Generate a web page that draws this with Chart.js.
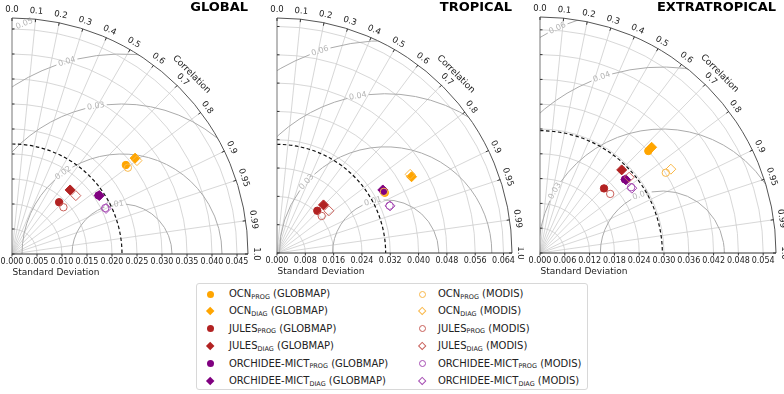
<!DOCTYPE html>
<html>
<head>
<meta charset="utf-8">
<script src="https://cdn.jsdelivr.net/npm/chart.js@4.4.1/dist/chart.umd.min.js"></script>
<style>
body { margin: 0; background: #fff; font-family: "DejaVu Sans", sans-serif; }
#wrap { position: relative; width: 784px; height: 394px; overflow: hidden; }
#wrap canvas { position: absolute; top: 0; }
#legend { position: absolute; left: 196px; top: 283px; width: 392px; height: 107px; border: 1px solid #d8d8d8; border-radius: 3px; box-sizing: border-box; font-size: 10px; color: #222; }
.item { position: absolute; height: 14px; line-height: 14px; white-space: nowrap; }
.mk { position: absolute; box-sizing: border-box; }
.sub { font-size: 6.5px; position: relative; top: 1.5px; }
</style>
</head>
<body>
<div id="wrap"><div id="legend"></div></div>
<script>
// series (same order in every panel)
const seriesModel = ['OCN', 'OCN', 'JULES', 'JULES', 'ORCHIDEE-MICT', 'ORCHIDEE-MICT',
                     'OCN', 'OCN', 'JULES', 'JULES', 'ORCHIDEE-MICT', 'ORCHIDEE-MICT'];
const seriesVersion = ['PROG', 'DIAG', 'PROG', 'DIAG', 'PROG', 'DIAG',
                       'PROG', 'DIAG', 'PROG', 'DIAG', 'PROG', 'DIAG'];
const seriesObs = ['GLOBMAP', 'GLOBMAP', 'GLOBMAP', 'GLOBMAP', 'GLOBMAP', 'GLOBMAP',
                   'MODIS', 'MODIS', 'MODIS', 'MODIS', 'MODIS', 'MODIS'];

// GLOBAL
const globalStd  = [0.0289, 0.0312, 0.0140, 0.0173, 0.0209, 0.0210, 0.0289, 0.0312, 0.0139, 0.0173, 0.0208, 0.0209];
const globalCorr = [0.788, 0.789, 0.673, 0.672, 0.828, 0.831, 0.802, 0.801, 0.740, 0.738, 0.897, 0.900];
const globalRef = 0.0220;
const globalMax = 0.0472;
const globalTicks = [0, 0.005, 0.010, 0.015, 0.020, 0.025, 0.030, 0.035, 0.040, 0.045];
const globalRms = [0.01, 0.02, 0.03, 0.04, 0.05];
const globalRmsLabels = ['0.01', '0.02', '0.03', '0.04', '0.05'];

// TROPICAL
const tropicalStd  = [0.0349, 0.0437, 0.0165, 0.0189, 0.0348, 0.0348, 0.0348, 0.0437, 0.0164, 0.0189, 0.0345, 0.0346];
const tropicalCorr = [0.873, 0.870, 0.690, 0.695, 0.864, 0.859, 0.868, 0.861, 0.770, 0.776, 0.922, 0.923];
const tropicalRef = 0.0307;
const tropicalMax = 0.0664;
const tropicalTicks = [0, 0.008, 0.016, 0.024, 0.032, 0.040, 0.048, 0.056, 0.064];
const tropicalRms = [0.015, 0.03, 0.045, 0.06];
const tropicalRmsLabels = ['0.01', '0.03', '0.04', '0.06'];

// EXTRATROPICAL
const extraStd  = [0.0360, 0.0372, 0.0220, 0.0282, 0.0272, 0.0273, 0.0361, 0.0376, 0.0222, 0.0283, 0.0272, 0.0272];
const extraCorr = [0.728, 0.726, 0.704, 0.701, 0.756, 0.761, 0.843, 0.842, 0.765, 0.762, 0.811, 0.817];
const extraRef = 0.0296;
const extraMax = 0.0571;
const extraTicks = [0, 0.006, 0.012, 0.018, 0.024, 0.030, 0.036, 0.042, 0.048, 0.054];
const extraRms = [0.015, 0.03, 0.045, 0.06];
const extraRmsLabels = ['0.01', '0.03', '0.04', '0.06'];

// correlation axis
const corrTicks = [0, 0.1, 0.2, 0.3, 0.4, 0.5, 0.6, 0.7, 0.8, 0.9, 0.95, 0.99, 1.0];
const corrLabels = ['0.0', '0.1', '0.2', '0.3', '0.4', '0.5', '0.6', '0.7', '0.8', '0.9', '0.95', '0.99', '1.0'];

const fillColor = { 'OCN': '#ffa500', 'JULES': '#b22222', 'ORCHIDEE-MICT': '#800080' };
const openColor = { 'OCN': '#f9b84a', 'JULES': '#c9605a', 'ORCHIDEE-MICT': '#a64db3' };

const CH = 285;
const panels = [
    { title: 'GLOBAL', left: 0, width: 262, ox: 12, oy: 254, R: 236,
      std: globalStd, corr: globalCorr, ref: globalRef, rmax: globalMax, ticks: globalTicks,
      rms: globalRms, rmsLabels: globalRmsLabels, rmsAngles: [98, 126, 100, 106, 113] },
    { title: 'TROPICAL', left: 262, width: 262, ox: 15, oy: 253, R: 235,
      std: tropicalStd, corr: tropicalCorr, ref: tropicalRef, rmax: tropicalMax, ticks: tropicalTicks,
      rms: tropicalRms, rmsLabels: tropicalRmsLabels, rmsAngles: [104, 138, 100, 108] },
    { title: 'EXTRATROPICAL', left: 525, width: 259, ox: 15, oy: 253, R: 236,
      std: extraStd, corr: extraCorr, ref: extraRef, rmax: extraMax, ticks: extraTicks,
      rms: extraRms, rmsLabels: extraRmsLabels, rmsAngles: [110, 150, 109, 115] }
];

//taylor diagram grid, drawn from the chart's own scales
var makeGrid = p => ({
    id: 'taylorGrid',
    beforeDatasetsDraw(chart) {
        const ctx = chart.ctx;
        const xs = chart.scales.x, ys = chart.scales.y;
        const ox = xs.getPixelForValue(0), oy = ys.getPixelForValue(0);
        const R = xs.getPixelForValue(p.rmax) - ox;
        const k = R / p.rmax;
        const PI = Math.PI;
        ctx.save();

        //std arcs
        ctx.strokeStyle = '#cdcdcd';
        ctx.lineWidth = 0.8;
        p.ticks.forEach(s => {
            if (s <= 0 || s >= p.rmax) return;
            ctx.beginPath();
            ctx.arc(ox, oy, s * k, -PI / 2, 0);
            ctx.stroke();
        });

        //correlation rays
        corrTicks.forEach(c => {
            if (c <= 0 || c >= 1) return;
            const a = Math.acos(c);
            ctx.beginPath();
            ctx.moveTo(ox, oy);
            ctx.lineTo(ox + R * Math.cos(a), oy - R * Math.sin(a));
            ctx.stroke();
        });

        //centred RMS contours
        ctx.save();
        ctx.beginPath();
        ctx.moveTo(ox, oy);
        ctx.arc(ox, oy, R, -PI / 2, 0);
        ctx.closePath();
        ctx.clip();
        const rx = ox + p.ref * k;
        ctx.font = '8px "DejaVu Sans"';
        ctx.strokeStyle = '#ababab';
        ctx.lineWidth = 1;
        const labs = [];
        p.rms.forEach((r, i) => {
            const rr = r * k;
            const phi = p.rmsAngles[i] * PI / 180;
            const tw = ctx.measureText(p.rmsLabels[i]).width;
            const gap = (tw / 2 + 2) / rr;
            ctx.beginPath();
            ctx.arc(rx, oy, rr, -PI, -phi - gap);
            ctx.stroke();
            ctx.beginPath();
            ctx.arc(rx, oy, rr, -phi + gap, 0);
            ctx.stroke();
            labs.push([rx + rr * Math.cos(phi), oy - rr * Math.sin(phi), phi, p.rmsLabels[i]]);
        });
        ctx.restore();
        ctx.fillStyle = '#b5b5b5';
        ctx.font = '8px "DejaVu Sans"';
        ctx.textAlign = 'center';
        ctx.textBaseline = 'middle';
        labs.forEach(l => {
            ctx.save();
            ctx.translate(l[0], l[1]);
            ctx.rotate(PI / 2 - l[2]);
            ctx.fillText(l[3], 0, 0);
            ctx.restore();
        });

        //reference std
        ctx.strokeStyle = '#111';
        ctx.lineWidth = 1.2;
        ctx.setLineDash([3.5, 2.5]);
        ctx.beginPath();
        ctx.arc(ox, oy, p.ref * k, -PI / 2, 0);
        ctx.stroke();
        ctx.setLineDash([]);

        //frame
        ctx.strokeStyle = '#555';
        ctx.lineWidth = 1;
        ctx.beginPath();
        ctx.arc(ox, oy, R, -PI / 2, 0);
        ctx.stroke();
        ctx.strokeStyle = '#777';
        ctx.beginPath();
        ctx.moveTo(ox, oy - R);
        ctx.lineTo(ox, oy);
        ctx.stroke();
        ctx.strokeStyle = '#333';
        ctx.beginPath();
        ctx.moveTo(ox, oy);
        ctx.lineTo(ox + R, oy);
        ctx.stroke();

        //std ticks + labels
        ctx.fillStyle = '#222';
        ctx.font = '8px "DejaVu Sans"';
        ctx.textAlign = 'center';
        ctx.textBaseline = 'middle';
        ctx.strokeStyle = '#333';
        p.ticks.forEach(s => {
            const x = ox + s * k;
            ctx.beginPath();
            ctx.moveTo(x, oy);
            ctx.lineTo(x, oy + 2.5);
            ctx.stroke();
            ctx.fillText(s.toFixed(3), x, oy + 8);
            ctx.beginPath();
            ctx.moveTo(ox, oy - s * k);
            ctx.lineTo(ox + 2.5, oy - s * k);
            ctx.stroke();
        });
        ctx.font = '9px "DejaVu Sans"';
        ctx.fillText('Standard Deviation', ox + 44, oy + 19);

        //correlation ticks + labels
        ctx.font = '8.5px "DejaVu Sans"';
        corrTicks.forEach((c, i) => {
            const a = Math.acos(c);
            ctx.beginPath();
            ctx.moveTo(ox + R * Math.cos(a), oy - R * Math.sin(a));
            ctx.lineTo(ox + (R - 3) * Math.cos(a), oy - (R - 3) * Math.sin(a));
            ctx.stroke();
            ctx.save();
            ctx.translate(ox + (R + 8) * Math.cos(a), oy - (R + 8) * Math.sin(a));
            ctx.rotate(PI / 2 - a);
            ctx.fillText(corrLabels[i], 0, 0);
            ctx.restore();
        });
        ctx.font = '9px "DejaVu Sans"';
        ctx.save();
        ctx.translate(ox + (R + 18) * Math.cos(PI / 4), oy - (R + 18) * Math.sin(PI / 4));
        ctx.rotate(PI / 4);
        ctx.fillText('Correlation', 0, 0);
        ctx.restore();

        //panel title
        ctx.font = 'bold 13px "DejaVu Sans"';
        ctx.textAlign = 'right';
        ctx.fillStyle = '#000';
        ctx.fillText(p.title, ox + R, 8);
        ctx.restore();
    }
});

const wrap = document.getElementById('wrap');
panels.forEach(p => {
    const cv = document.createElement('canvas');
    cv.width = p.width;
    cv.height = CH;
    cv.style.left = p.left + 'px';
    wrap.appendChild(cv);
    const datasets = seriesModel.map((m, i) => {
        const filled = seriesObs[i] === 'GLOBMAP';
        const prog = seriesVersion[i] === 'PROG';
        const c = p.corr[i], s = p.std[i];
        return {
            data: [{ x: s * c, y: s * Math.sqrt(1 - c * c) }],
            pointStyle: prog ? 'circle' : 'rectRot',
            pointRadius: prog ? 3.7 : 5,
            backgroundColor: filled ? fillColor[m] : 'rgba(0,0,0,0)',
            borderColor: filled ? fillColor[m] : openColor[m],
            borderWidth: 1,
            order: -i
        };
    });
    new Chart(cv, {
        type: 'scatter',
        data: { datasets: datasets },
        options: {
            responsive: false,
            animation: false,
            events: [],
            layout: { padding: { left: p.ox, top: p.oy - p.R, right: p.width - p.ox - p.R, bottom: CH - p.oy } },
            scales: {
                x: { display: false, min: 0, max: p.rmax },
                y: { display: false, min: 0, max: p.rmax }
            },
            plugins: { legend: { display: false }, tooltip: { enabled: false } }
        },
        plugins: [makeGrid(p)]
    });
});

//legend
const legend = document.getElementById('legend');
seriesModel.forEach((m, i) => {
    const col = seriesObs[i] === 'GLOBMAP' ? 0 : 1;
    const row = i % 6;
    const cy = 10 + row * 17.4;
    const mx = col ? 225 : 13;
    const tx = col ? 241 : 32;
    const filled = col === 0;
    const mk = document.createElement('div');
    mk.className = 'mk';
    if (seriesVersion[i] === 'PROG') {
        const d = 7;
        mk.style.cssText = `left:${mx - d / 2}px;top:${cy - d / 2}px;width:${d}px;height:${d}px;border-radius:50%;` +
            (filled ? `background:${fillColor[m]};` : `border:1px solid ${openColor[m]};`);
    } else {
        const w = 6.4;
        mk.style.cssText = `left:${mx - w / 2}px;top:${cy - w / 2}px;width:${w}px;height:${w}px;transform:rotate(45deg);` +
            (filled ? `background:${fillColor[m]};` : `border:1px solid ${openColor[m]};`);
    }
    legend.appendChild(mk);
    const it = document.createElement('div');
    it.className = 'item';
    it.style.left = tx + 'px';
    it.style.top = (cy - 7) + 'px';
    it.innerHTML = `${m}<span class="sub">${seriesVersion[i]}</span> (${seriesObs[i]})`;
    legend.appendChild(it);
});
</script>
</body>
</html>
